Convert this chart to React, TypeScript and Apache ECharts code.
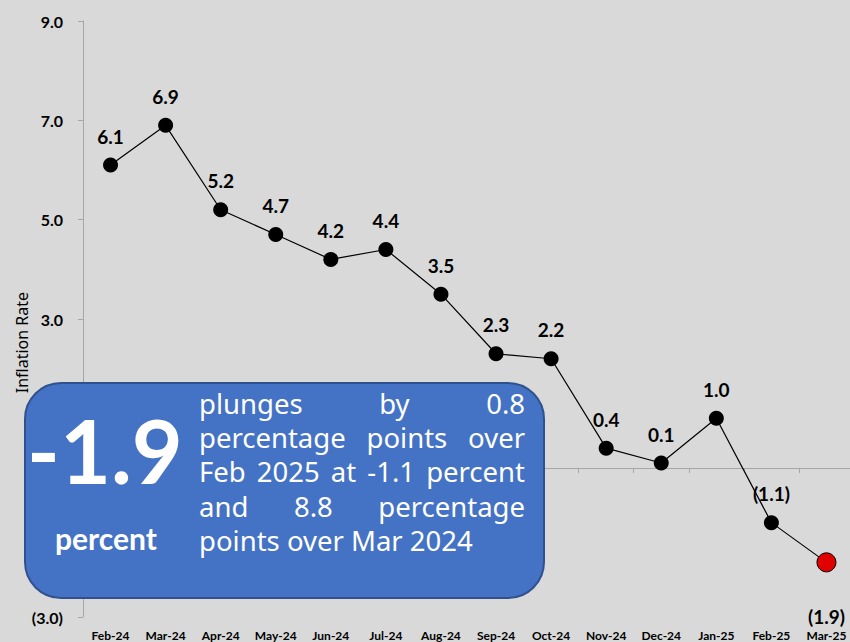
import React, { useEffect, useRef } from "react";
import * as echarts from "echarts";

const months = ["Feb-24", "Mar-24", "Apr-24", "May-24", "Jun-24", "Jul-24", "Aug-24", "Sep-24", "Oct-24", "Nov-24", "Dec-24", "Jan-25", "Feb-25", "Mar-25"];
const inflation = [6.1, 6.9, 5.2, 4.7, 4.2, 4.4, 3.5, 2.3, 2.2, 0.4, 0.1, 1.0, -1.1, -1.9];
const yTickLabels = ["(3.0)", "(1.0)", "1.0", "3.0", "5.0", "7.0", "9.0"];
const headline = "-1.9";
const headlineUnit = "percent";
const paragraphLines = [
  "plunges by 0.8",
  "percentage points over",
  "Feb 2025 at -1.1 percent",
  "and 8.8 percentage",
  "points over Mar 2024",
];

const fmt = (v: number) => (v < 0 ? `(${Math.abs(v).toFixed(1)})` : v.toFixed(1));

export default function App() {
  const ref = useRef<HTMLDivElement>(null);
  useEffect(() => {
    if (!ref.current) return;
    document.body.style.margin = "0";
    const chart = echarts.init(ref.current, null, { renderer: "svg" });

    const paraFont = "27.5px 'Noto Sans'";
    const canvas = document.createElement("canvas");
    const ctx = canvas.getContext("2d")!;
    ctx.font = paraFont;
    const paraLeft = 199;
    const paraRight = 525;
    const lineY = [403, 437, 471, 506, 540];
    const paraEls: any[] = [];
    paragraphLines.forEach((line, i) => {
      const words = line.split(" ");
      const widths = words.map((w) => ctx.measureText(w).width);
      const total = widths.reduce((a, b) => a + b, 0);
      const last = i === paragraphLines.length - 1;
      const gap = last ? ctx.measureText(" ").width : (paraRight - paraLeft - total) / (words.length - 1);
      let x = paraLeft;
      words.forEach((w, j) => {
        paraEls.push({
          type: "text",
          z: 20,
          x,
          y: lineY[i],
          style: {
            text: w,
            fill: "#ffffff",
            font: paraFont,
            align: "left",
            verticalAlign: "middle",
          },
        });
        x += widths[j] + gap;
      });
    });

    const option: any = {
      animation: false,
      backgroundColor: "#d9d9d9",
      grid: { left: 83, top: 21, width: 771, height: 596, containLabel: false, outerBoundsMode: "none" },
      xAxis: [
        {
          type: "category",
          data: months,
          position: "bottom",
          axisLine: { onZero: true, onZeroAxisIndex: 0, lineStyle: { color: "#a6a6a6", width: 1 } },
          axisTick: { show: true, length: 5, interval: 0, lineStyle: { color: "#a6a6a6" } },
          axisLabel: { show: false },
          splitLine: { show: false },
        },
        {
          type: "category",
          data: months,
          position: "bottom",
          axisLine: { show: false, onZero: false },
          axisTick: { show: false },
          axisLabel: {
            show: true,
            interval: 0,
            margin: 12,
            color: "#000",
            fontFamily: "Lato",
            fontWeight: "bold",
            fontSize: 12,
          },
          splitLine: { show: false },
        },
      ],
      yAxis: [
        { type: "value", min: -3, max: 9, show: false },
        {
          type: "value",
          min: 0,
          max: 12,
          interval: 2,
          position: "left",
          axisLine: { show: true, lineStyle: { color: "#a6a6a6" } },
          axisTick: { show: true, length: 5, lineStyle: { color: "#a6a6a6" } },
          axisLabel: {
            margin: 20,
            color: "#000",
            fontFamily: "Lato",
            fontWeight: "bold",
            fontSize: 16,
            formatter: (v: number) => yTickLabels[Math.round(v / 2)],
          },
          splitLine: { show: false },
        },
      ],
      series: [
        {
          type: "line",
          xAxisIndex: 0,
          yAxisIndex: 0,
          data: inflation.map((v, i) =>
            i === inflation.length - 1
              ? {
                  value: v,
                  symbolSize: 19,
                  itemStyle: { color: "#e00000", borderColor: "#000", borderWidth: 1 },
                  label: { position: "bottom", distance: 35 },
                }
              : v
          ),
          symbol: "circle",
          symbolSize: 15,
          lineStyle: { color: "#000", width: 1.2 },
          itemStyle: { color: "#000" },
          label: {
            show: true,
            position: "top",
            distance: 12,
            color: "#000",
            fontFamily: "Lato",
            fontWeight: "bold",
            fontSize: 19,
            formatter: (p: any) => fmt(p.value),
          },
          z: 3,
        },
      ],
      graphic: [
        {
          type: "text",
          x: 22,
          y: 292,
          rotation: Math.PI / 2,
          style: {
            text: "Inflation Rate",
            fill: "#000",
            font: "16px 'Noto Sans'",
            align: "right",
            verticalAlign: "middle",
          },
        },
        {
          type: "rect",
          z: 10,
          shape: { x: 25, y: 383, width: 519, height: 215, r: 36 },
          style: { fill: "#4472c4", stroke: "#2f528f", lineWidth: 2 },
        },
        {
          type: "text",
          z: 20,
          x: 105,
          y: 450,
          style: {
            text: headline,
            fill: "#fff",
            font: "bold 88px Lato",
            align: "center",
            verticalAlign: "middle",
          },
        },
        {
          type: "text",
          z: 20,
          x: 106,
          y: 538,
          style: {
            text: headlineUnit,
            fill: "#fff",
            font: "bold 30px Lato",
            align: "center",
            verticalAlign: "middle",
          },
        },
        ...paraEls,
      ],
    };
    chart.setOption(option);
    return () => chart.dispose();
  }, []);
  return (
    <div
      ref={ref}
      style={{ position: "fixed", left: 0, top: 0, width: 850, height: 642, background: "#d9d9d9" }}
    />
  );
}
